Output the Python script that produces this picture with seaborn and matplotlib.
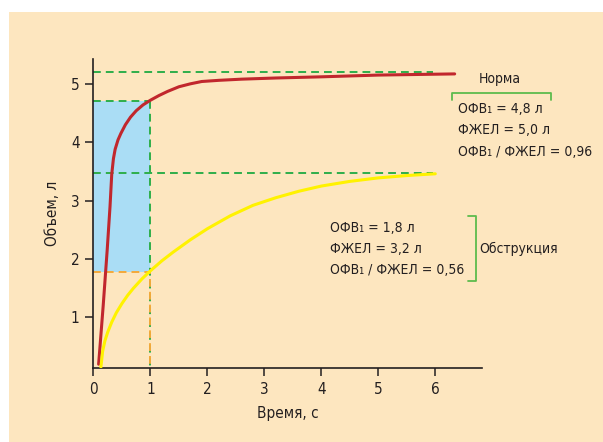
import numpy as np
import pandas as pd
import matplotlib
matplotlib.use("Agg")
import matplotlib.pyplot as plt
import seaborn as sns
from matplotlib.patches import Rectangle

# curves
t_norm = [0.09, 0.17, 0.24, 0.29, 0.32, 0.35, 0.38, 0.43, 0.48, 0.56, 0.65, 0.75,
          0.87, 1.0, 1.15, 1.3, 1.5, 1.7, 1.9, 2.2, 2.6, 3.2, 4.0, 5.0, 6.34]
v_norm = [0.2, 1.2, 2.15, 2.9, 3.45, 3.72, 3.88, 4.04, 4.15, 4.3, 4.43, 4.54,
          4.64, 4.72, 4.8, 4.87, 4.95, 5.0, 5.04, 5.06, 5.08, 5.1, 5.12, 5.15, 5.17]

t_obs = [0.13, 0.16, 0.2, 0.25, 0.32, 0.4, 0.5, 0.6, 0.7, 0.85, 1.0, 1.2, 1.4,
         1.7, 2.0, 2.4, 2.8, 3.2, 3.6, 4.0, 4.5, 5.0, 5.5, 6.0]
v_obs = [0.15, 0.42, 0.6, 0.75, 0.92, 1.08, 1.24, 1.38, 1.5, 1.66, 1.8, 1.97, 2.12,
         2.33, 2.52, 2.74, 2.92, 3.05, 3.16, 3.25, 3.33, 3.39, 3.43, 3.46]

# reference levels
fev1_norm = 4.7
fvc_norm = 5.2
fev1_obs = 1.78
fvc_obs = 3.48
t_fev1 = 1.0
t_end = 5.96

norm_lines = ["ОФВ₁ = 4,8 л", "ФЖЕЛ = 5,0 л", "ОФВ₁ / ФЖЕЛ = 0,96"]
obs_lines = ["ОФВ₁ = 1,8 л", "ФЖЕЛ = 3,2 л", "ОФВ₁ / ФЖЕЛ = 0,56"]

x_ticks = [0, 1, 2, 3, 4, 5, 6]
y_ticks = [1, 2, 3, 4, 5]

sns.set_style("ticks")
plt.rcParams['font.family'] = ['DejaVu Sans']
plt.rcParams['font.stretch'] = 'condensed'

beige = "#FDE6BF"
green = "#2EAE4A"
bracket_green = "#5DBB4C"
txt = "#231F20"
fs = 10

fig = plt.figure(figsize=(6.03, 4.42), dpi=100, facecolor="white")
fig.patches.append(Rectangle((9 / 603, 0), 1, (442 - 12) / 442, transform=fig.transFigure,
                             facecolor=beige, edgecolor="none", zorder=-10))
ax = fig.add_axes([93.5 / 603, 1 - 368.3 / 442, (482 - 93.5) / 603, (368.3 - 59.3) / 442])
ax.patch.set_alpha(0)

# FEV1 area
ax.add_patch(Rectangle((0, fev1_obs), t_fev1, fev1_norm - fev1_obs,
                       facecolor="#AADDF5", edgecolor="none", zorder=1))

dash = (0, (4, 2.6))
ax.plot([0, t_end], [fvc_norm, fvc_norm], color=green, lw=1.4, ls=dash, zorder=2)
ax.plot([0, t_end], [fvc_obs, fvc_obs], color=green, lw=1.4, ls=dash, zorder=2)
ax.plot([0, t_fev1], [fev1_norm, fev1_norm], color=green, lw=1.4, ls=dash, zorder=2)
ax.plot([t_fev1, t_fev1], [fev1_norm, 0.13], color=green, lw=1.4, ls=dash, zorder=2)
ax.plot([0, t_fev1], [fev1_obs, fev1_obs], color="#F4A93A", lw=1.4, ls=dash, zorder=2)
ax.plot([t_fev1, t_fev1], [fev1_obs, 0.13], color="#F4A93A", lw=1.4, ls=(3, (4, 2.6)), zorder=2)

df = pd.concat([
    pd.DataFrame({"t": t_norm, "v": v_norm, "g": "Норма"}),
    pd.DataFrame({"t": t_obs, "v": v_obs, "g": "Обструкция"}),
])
sns.lineplot(data=df, x="t", y="v", hue="g", palette={"Норма": "#C1272D", "Обструкция": "#FFF200"},
             lw=2.2, sort=False, legend=False, ax=ax, zorder=3)

ax.set_xlim(0, 6.82)
ax.set_ylim(0.13, 5.42)
ax.set_xticks(x_ticks)
ax.set_yticks(y_ticks)
ax.tick_params(length=6, width=1.1, color=txt, labelsize=11, labelcolor=txt, pad=4)
for s in ["top", "right"]:
    ax.spines[s].set_visible(False)
for s in ["left", "bottom"]:
    ax.spines[s].set_color(txt)
    ax.spines[s].set_linewidth(1.2)
ax.set_xlabel("Время, с", fontsize=11, color=txt, labelpad=6)
ax.set_ylabel("Объем, л", fontsize=11, color=txt, labelpad=8)

# annotations
ax.text(7.13, 5.08, "Норма", fontsize=fs, color=txt, ha="center", va="center", clip_on=False)
ax.plot([6.30, 6.30, 8.04, 8.04], [4.72, 4.85, 4.85, 4.72], color=bracket_green, lw=1.3, clip_on=False)
for i, s in enumerate(norm_lines):
    ax.text(6.39, 4.57 - i * 0.365, s, fontsize=fs, color=txt, ha="left", va="center", clip_on=False)

for i, s in enumerate(obs_lines):
    ax.text(4.16, 2.53 - i * 0.355, s, fontsize=fs, color=txt, ha="left", va="center", clip_on=False)
ax.plot([6.57, 6.71, 6.71, 6.57], [2.73, 2.73, 1.62, 1.62], color=bracket_green, lw=1.3, clip_on=False)
ax.text(6.77, 2.18, "Обструкция", fontsize=fs, color=txt, ha="left", va="center", clip_on=False)

fig.savefig("out.png", dpi=100, facecolor=fig.get_facecolor())
